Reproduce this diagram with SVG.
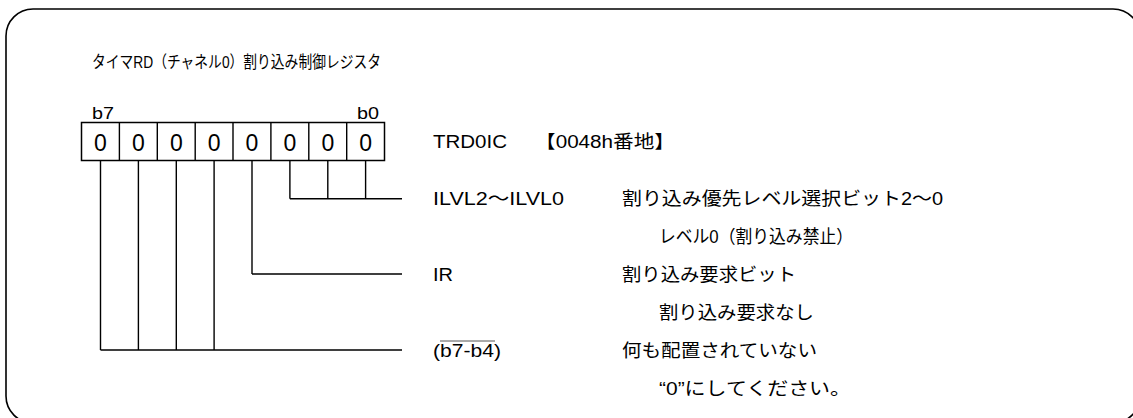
<svg xmlns="http://www.w3.org/2000/svg" width="1133" height="418" viewBox="0 0 1133 418">
<style>
text{font-family:"Liberation Sans","Noto Sans CJK JP",sans-serif;fill:#000}
.t{font-size:18px}
.c{font-size:23px;text-anchor:middle}
.s{font-size:17px}
.ln{stroke:#000;stroke-width:1.4;fill:none}
.cell{fill:#fff;stroke:#000;stroke-width:1.5}
</style>
<rect x="6" y="9" width="1134" height="414" rx="27" ry="27" fill="#fff" stroke="#000" stroke-width="1.6"/>
<g id="title"><text x="92" y="68" font-size="16.5" textLength="289" lengthAdjust="spacingAndGlyphs">タイマRD（チャネル0）割り込み制御レジスタ</text></g>
<g id="register">
<text class="s" x="92" y="119" textLength="22" lengthAdjust="spacingAndGlyphs">b7</text>
<text class="s" x="357" y="119" textLength="22" lengthAdjust="spacingAndGlyphs">b0</text>
<rect class="cell" x="81.5" y="122.5" width="303" height="38"/>
<path class="ln" d="M119.4 122.5V160.5M157.3 122.5V160.5M195.2 122.5V160.5M233 122.5V160.5M270.9 122.5V160.5M308.8 122.5V160.5M346.7 122.5V160.5"/>
<g>
<text class="c" x="100.5" y="150.5">0</text>
<text class="c" x="138.4" y="150.5">0</text>
<text class="c" x="176.3" y="150.5">0</text>
<text class="c" x="214.1" y="150.5">0</text>
<text class="c" x="252" y="150.5">0</text>
<text class="c" x="289.9" y="150.5">0</text>
<text class="c" x="327.8" y="150.5">0</text>
<text class="c" x="365.6" y="150.5">0</text>
</g>
<text class="t" x="433" y="148" textLength="74" lengthAdjust="spacingAndGlyphs">TRD0IC</text>
<text class="t" x="535" y="148" textLength="140" lengthAdjust="spacingAndGlyphs">【0048h番地】</text>
</g>
<g id="connectors">
<path class="ln" d="M289.9 160.5V198.7M327.8 160.5V198.7M365.6 160.5V198.7M289.9 198.7H402"/>
<path class="ln" d="M252 160.5V274M252 274H402"/>
<path class="ln" d="M100.5 160.5V350M138.4 160.5V350M176.3 160.5V350M214.1 160.5V350M100.5 350H402"/>
</g>
<g id="ilvl">
<text class="t" x="433" y="205" textLength="131" lengthAdjust="spacingAndGlyphs">ILVL2～ILVL0</text>
<text class="t" x="622" y="205" textLength="321" lengthAdjust="spacingAndGlyphs">割り込み優先レベル選択ビット2～0</text>
<text class="t" x="659" y="243" textLength="194" lengthAdjust="spacingAndGlyphs">レベル0（割り込み禁止）</text>
</g>
<g id="ir">
<text class="t" x="433" y="281" textLength="20" lengthAdjust="spacingAndGlyphs">IR</text>
<text class="t" x="622" y="281" textLength="174" lengthAdjust="spacingAndGlyphs">割り込み要求ビット</text>
<text class="t" x="659" y="319" textLength="155" lengthAdjust="spacingAndGlyphs">割り込み要求なし</text>
</g>
<g id="reserved">
<text class="t" x="433" y="357" textLength="68" lengthAdjust="spacingAndGlyphs">(b7-b4)</text>
<line x1="440" y1="341" x2="495" y2="341" stroke="#555" stroke-width="1"/>
<text class="t" x="622" y="357" textLength="195" lengthAdjust="spacingAndGlyphs">何も配置されていない</text>
<text class="t" x="659" y="395" textLength="192" lengthAdjust="spacingAndGlyphs">“0”にしてください。</text>
</g>
</svg>
